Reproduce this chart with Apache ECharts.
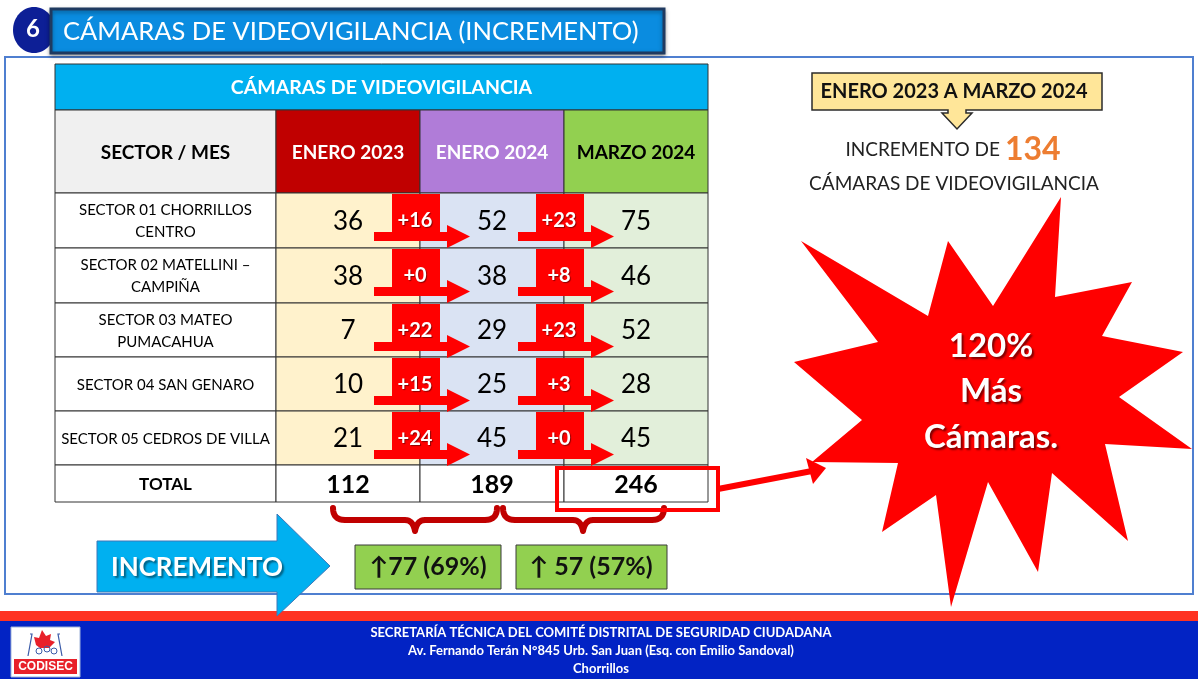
<!DOCTYPE html>
<html>
<head>
<meta charset="utf-8">
<style>
html,body{margin:0;padding:0;background:#fff;}
#main{width:1198px;height:679px;}
</style>
<script src="https://cdn.jsdelivr.net/npm/echarts@6/dist/echarts.min.js"></script>
</head>
<body>
<div id="main"></div>
<script>
// data
const sectors = ['SECTOR 01 CHORRILLOS\nCENTRO', 'SECTOR 02 MATELLINI –\nCAMPIÑA', 'SECTOR 03 MATEO\nPUMACAHUA', 'SECTOR 04 SAN GENARO', 'SECTOR 05 CEDROS DE VILLA'];
const months = ['ENERO 2023', 'ENERO 2024', 'MARZO 2024'];
const enero2023 = [36, 38, 7, 10, 21];
const enero2024 = [52, 38, 29, 25, 45];
const marzo2024 = [75, 46, 52, 28, 45];
const increments = ['↑77 (69%)', '↑ 57 (57%)'];
const starText = ['120%', 'Más', 'Cámaras.'];

const F = 'Lato, "Open Sans", sans-serif';
const cols = [enero2023, enero2024, marzo2024];
const totals = cols.map(a => a.reduce((s, v) => s + v, 0));
const growth = totals[2] - totals[0];

// table layout in axis units (column / row edges)
const COLX = [0, 221, 365, 509, 653];
const ROWY = [0, 46, 129, 184, 239, 293, 347, 401, 438];
const headFill = ['#c00000', '#b07cd8', '#92d050'];
const headColor = ['#fff', '#fff', '#000'];
const bodyFill = ['#fff2cc', '#dae3f3', '#e2efda'];

let cells = [];
function cell(c0, c1, r, fill, text, font, color) {
  cells.push({v: [COLX[c0], ROWY[r], COLX[c1], ROWY[r + 1]], fill: fill, text: text, font: font, color: color});
}
cell(0, 4, 0, '#00b0f0', 'CÁMARAS DE VIDEOVIGILANCIA', 'bold 19.5px ' + F, '#fff');
cell(0, 1, 1, '#f0f0f0', 'SECTOR / MES', 'bold 19px ' + F, '#000');
months.forEach((m, j) => cell(j + 1, j + 2, 1, headFill[j], m, 'bold 19px ' + F, headColor[j]));
sectors.forEach((s, i) => {
  cell(0, 1, i + 2, '#fff', s, '15px ' + F, '#000');
  cols.forEach((arr, j) => cell(j + 1, j + 2, i + 2, bodyFill[j], String(arr[i]), '26px ' + F, '#000'));
});
cell(0, 1, 7, '#fff', 'TOTAL', 'bold 17px ' + F, '#000');
totals.forEach((t, j) => cell(j + 1, j + 2, 7, '#fff', String(t), 'bold 25px ' + F, '#000'));

// red "+n" arrows between months
let arrows = [];
sectors.forEach((s, i) => {
  for (let j = 0; j < 2; j++) arrows.push([COLX[j + 2], ROWY[i + 2], cols[j + 1][i] - cols[j][i]]);
});

function txt(text, x, y, font, color, extra) {
  let st = {text: text, x: x, y: y, font: font, fill: color,
    textAlign: 'center', textVerticalAlign: 'middle', align: 'center', verticalAlign: 'middle'};
  return Object.assign(st, extra || {});
}

function renderCell(params, api) {
  const c = cells[params.dataIndex];
  const a = api.coord([api.value(0), api.value(1)]);
  const b = api.coord([api.value(2), api.value(3)]);
  return {type: 'group', children: [
    {type: 'rect', shape: {x: a[0], y: a[1], width: b[0] - a[0], height: b[1] - a[1]},
      style: {fill: c.fill, stroke: '#333', lineWidth: 1}},
    {type: 'text', style: txt(c.text, (a[0] + b[0]) / 2, (a[1] + b[1]) / 2 + 1, c.font, c.color, {lineHeight: 22})}
  ]};
}

function renderArrow(params, api) {
  const p = api.coord([api.value(0), api.value(1)]);
  const x = p[0], y = p[1];
  return {type: 'group', children: [
    {type: 'polygon', shape: {points: [[x - 28, y + 1], [x + 20, y + 1], [x + 20, y + 39], [x + 27, y + 39], [x + 27, y + 32],
      [x + 50, y + 43.5], [x + 27, y + 55], [x + 27, y + 48], [x - 46, y + 48], [x - 46, y + 39], [x - 28, y + 39]]},
      style: {fill: '#ff0000'}},
    {type: 'text', style: txt('+' + api.value(2), x - 5, y + 28, 'bold 20px ' + F, '#fff',
      {textShadowColor: 'rgba(0,0,0,0.45)', textShadowOffsetX: 1, textShadowOffsetY: 1, textShadowBlur: 1})}
  ]};
}

const starPts = [[1061,197],[1055,297],[1132,282],[1102,336],[1183,352],[1119,397],[1192,449],[1105,444],[1128,541],[1052,473],
  [1038,572],[988,482],[951,607],[936,495],[882,532],[898,463],[812,462],[862,420],[794,362],[878,342],[801,241],[928,316],[948,241],[993,306]];

// curly brace as sampled quadratic curves
function quad(p0, c, p1, out) {
  for (let t = 0; t <= 1.0001; t += 0.125) {
    const u = 1 - t;
    out.push([u * u * p0[0] + 2 * u * t * c[0] + t * t * p1[0], u * u * p0[1] + 2 * u * t * c[1] + t * t * p1[1]]);
  }
}
function brace(x0, x1, xm) {
  let pts = [];
  quad([x0, 508], [x0, 520], [x0 + 12, 520], pts);
  quad([xm - 10, 520], [xm - 2, 520], [xm, 531], pts);
  quad([xm, 531], [xm + 2, 520], [xm + 10, 520], pts);
  quad([x1 - 12, 520], [x1, 520], [x1, 508], pts);
  return pts;
}

const shadow = {textShadowColor: 'rgba(0,0,0,0.5)', textShadowOffsetX: 2, textShadowOffsetY: 2, textShadowBlur: 2};

let g = [
  // content frame
  {type: 'rect', z: 0, shape: {x: 5, y: 57, width: 1188, height: 537}, style: {fill: 'none', stroke: '#4f7fd0', lineWidth: 2}},
  // title
  {type: 'ellipse', z: 1, shape: {cx: 34, cy: 30, rx: 21, ry: 23}, style: {fill: '#0d1f96'}},
  {type: 'text', z: 1, style: txt('6', 33, 29, 'bold 24px ' + F, '#fff')},
  {type: 'rect', z: 1, shape: {x: 51, y: 9, width: 613, height: 44},
    style: {fill: '#0a8ce0', stroke: '#1f3a60', lineWidth: 3, shadowColor: 'rgba(0,0,0,0.35)', shadowBlur: 4, shadowOffsetY: 2}},
  {type: 'text', z: 2, style: txt('CÁMARAS DE VIDEOVIGILANCIA (INCREMENTO)', 63, 32, '25.5px ' + F, '#fff',
    {textAlign: 'left', align: 'left'})},
  // right callout
  {type: 'polygon', z: 1, shape: {points: [[812,73],[1102,73],[1102,110],[966,110],[966,113],[972,113],[957,129],[942,113],[948,113],[948,110],[812,110]]},
    style: {fill: '#ffe699', stroke: '#2b2b2b', lineWidth: 1.5}},
  {type: 'text', z: 2, style: txt('ENERO 2023 A MARZO 2024', 954, 92, 'bold 20px ' + F, '#111')},
  {type: 'text', z: 2, style: txt('{a|INCREMENTO DE }{b|' + growth + '}', 953, 150, '19px ' + F, '#222',
    {rich: {a: {font: '19px ' + F, fill: '#222'}, b: {font: 'bold 32px ' + F, fill: '#ed7d31'}}})},
  {type: 'text', z: 2, style: txt('CÁMARAS DE VIDEOVIGILANCIA', 954, 184, '19px ' + F, '#222')},
  // star
  {type: 'polygon', z: 5, shape: {points: starPts}, style: {fill: '#ff0000'}},
  {type: 'text', z: 6, style: txt(starText[0], 991, 346, 'bold 33px ' + F, '#fff', shadow)},
  {type: 'text', z: 6, style: txt(starText[1], 991, 391, 'bold 33px ' + F, '#fff', shadow)},
  {type: 'text', z: 6, style: txt(starText[2], 991, 437, 'bold 33px ' + F, '#fff', shadow)},
  // highlight of the total + connector
  {type: 'rect', z: 10, shape: {x: 557, y: 468, width: 161, height: 42}, style: {fill: 'none', stroke: '#ff0000', lineWidth: 4}},
  {type: 'line', z: 10, shape: {x1: 718, y1: 489, x2: 812, y2: 471}, style: {stroke: '#ff0000', lineWidth: 6}},
  {type: 'polygon', z: 10, shape: {points: [[806,458],[826,468],[813,484]]}, style: {fill: '#ff0000'}},
  // braces
  {type: 'polyline', z: 4, shape: {points: brace(333, 497, 415)}, style: {fill: 'none', stroke: '#c00000', lineWidth: 6, lineCap: 'round', lineJoin: 'round'}},
  {type: 'polyline', z: 4, shape: {points: brace(503, 664, 583)}, style: {fill: 'none', stroke: '#c00000', lineWidth: 6, lineCap: 'round', lineJoin: 'round'}},
  // green increment boxes
  {type: 'rect', z: 4, shape: {x: 355, y: 545, width: 146, height: 44}, style: {fill: '#92d050', stroke: '#3a3a3a', lineWidth: 1}},
  {type: 'text', z: 5, style: txt(increments[0], 428, 567, 'bold 25px ' + F, '#111')},
  {type: 'rect', z: 4, shape: {x: 516, y: 545, width: 151, height: 44}, style: {fill: '#92d050', stroke: '#3a3a3a', lineWidth: 1}},
  {type: 'text', z: 5, style: txt(increments[1], 591, 567, 'bold 25px ' + F, '#111')},
  // footer
  {type: 'rect', z: 3, shape: {x: 0, y: 611, width: 1198, height: 11}, style: {fill: '#ff3322'}},
  {type: 'rect', z: 3, shape: {x: 0, y: 621, width: 1198, height: 58}, style: {fill: '#0223c4'}},
  {type: 'text', z: 4, style: txt('SECRETARÍA TÉCNICA DEL COMITÉ DISTRITAL DE SEGURIDAD CIUDADANA', 601, 633, 'bold 13px ' + F, '#fff')},
  {type: 'text', z: 4, style: txt('Av. Fernando Terán N°845 Urb. San Juan (Esq. con Emilio Sandoval)', 601, 651, 'bold 13px ' + F, '#fff')},
  {type: 'text', z: 4, style: txt('Chorrillos', 601, 669, 'bold 13px ' + F, '#fff')},
  // logo
  {type: 'rect', z: 4, shape: {x: 11, y: 627, width: 69, height: 50}, style: {fill: '#fff', stroke: '#9fb3d9', lineWidth: 1}},
  {type: 'polygon', z: 5, shape: {points: [[36,645],[34,637],[39,638],[42,630],[46,636],[51,634],[50,640],[55,642],[49,648],[40,648]]}, style: {fill: '#e8202a'}},
  {type: 'polyline', z: 5, shape: {points: [[28,656],[32,634],[30,634]]}, style: {stroke: '#3a5aa8', lineWidth: 1.2, fill: 'none'}},
  {type: 'polyline', z: 5, shape: {points: [[62,656],[58,634],[60,634]]}, style: {stroke: '#3a5aa8', lineWidth: 1.2, fill: 'none'}},
  {type: 'circle', z: 5, shape: {cx: 39, cy: 651, r: 3}, style: {fill: 'none', stroke: '#3a5aa8', lineWidth: 1}},
  {type: 'circle', z: 5, shape: {cx: 47, cy: 649, r: 3}, style: {fill: 'none', stroke: '#3a5aa8', lineWidth: 1}},
  {type: 'circle', z: 5, shape: {cx: 54, cy: 651, r: 3}, style: {fill: 'none', stroke: '#3a5aa8', lineWidth: 1}},
  {type: 'rect', z: 5, shape: {x: 14, y: 659, width: 63, height: 15}, style: {fill: '#e8202a'}},
  {type: 'text', z: 6, style: txt('CODISEC', 45.5, 667, 'bold 12px "Liberation Sans", sans-serif', '#fff')},
  // blue INCREMENTO arrow
  {type: 'polygon', z: 7, shape: {points: [[97,541],[277,541],[277,514],[330,566],[277,616],[277,592],[97,592]]},
    style: {fill: '#00b0f0', stroke: '#3d77b8', lineWidth: 1}},
  {type: 'text', z: 8, style: txt('INCREMENTO', 197, 568, 'bold 26px ' + F, '#fff',
    {textShadowColor: 'rgba(0,0,0,0.45)', textShadowOffsetX: 2, textShadowOffsetY: 2, textShadowBlur: 2})}
];

const chart = echarts.init(document.getElementById('main'));
chart.setOption({
  animation: false,
  grid: {left: 55, top: 64, width: 653, height: 438},
  xAxis: {type: 'value', min: 0, max: 653, show: false},
  yAxis: {type: 'value', min: 0, max: 438, inverse: true, show: false},
  graphic: {elements: g},
  series: [
    {type: 'custom', z: 2, silent: true, clip: false, renderItem: renderCell, data: cells.map(c => c.v), encode: {x: [0, 2], y: [1, 3]}},
    {type: 'custom', z: 3, silent: true, clip: false, renderItem: renderArrow, data: arrows, encode: {x: 0, y: 1}}
  ]
});
</script>
</body>
</html>
